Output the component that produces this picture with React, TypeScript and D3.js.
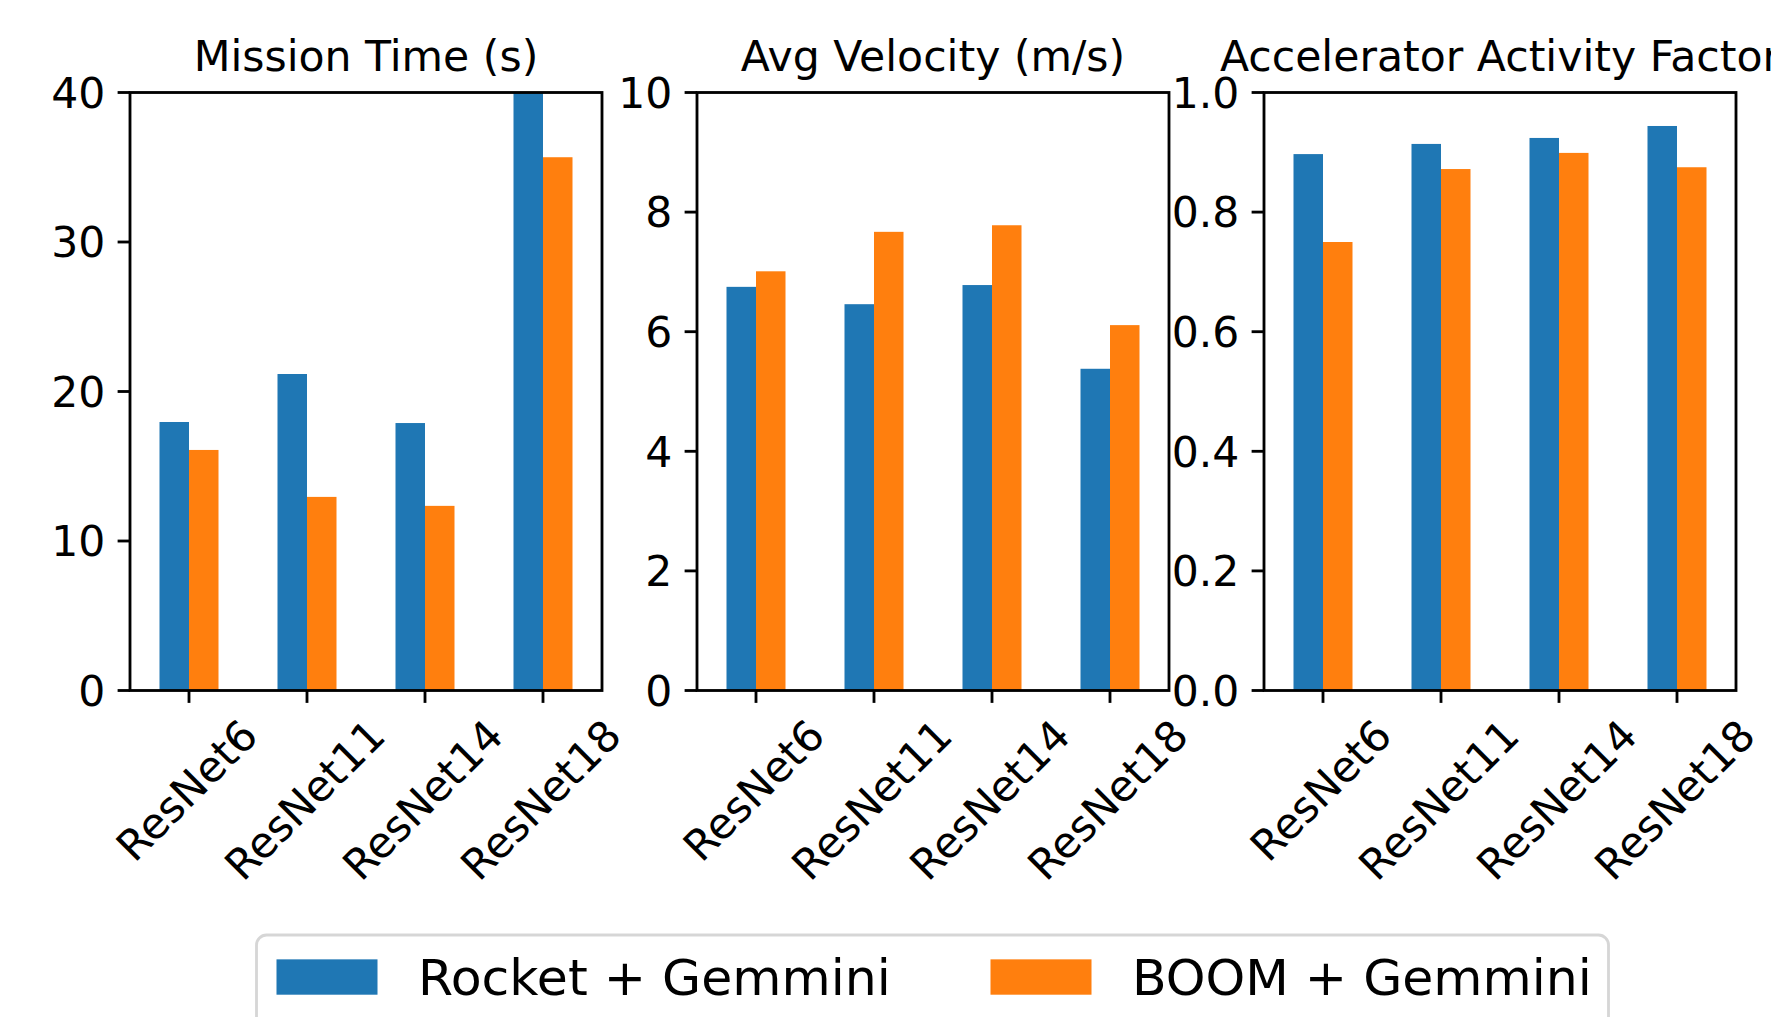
import React, { useEffect } from 'react';
import * as d3 from 'd3';

const categories = ['ResNet6', 'ResNet11', 'ResNet14', 'ResNet18'];
const seriesNames = ['Rocket + Gemmini', 'BOOM + Gemmini'];
const seriesColors = ['#1f77b4', '#ff7f0e'];

const missionRocket = [17.96, 21.17, 17.89, 40.0];
const missionBoom = [16.09, 12.95, 12.35, 35.67];
const velocityRocket = [6.75, 6.46, 6.78, 5.38];
const velocityBoom = [7.01, 7.67, 7.78, 6.11];
const activityRocket = [0.897, 0.914, 0.924, 0.944];
const activityBoom = [0.75, 0.872, 0.899, 0.875];

const missionTicks = [0, 10, 20, 30, 40];
const velocityTicks = [0, 2, 4, 6, 8, 10];
const activityTicks = [0, 0.2, 0.4, 0.6, 0.8, 1.0];

const titles = ['Mission Time (s)', 'Avg Velocity (m/s)', 'Accelerator Activity Factor'];

const W = 1771;
const H = 1017;
const FONT = '"DejaVu Sans", sans-serif';
const TICK_FS = 42.5;
const TITLE_FS = 42.6;
const LEGEND_FS = 50.5;
const PT = 3.54;
const LW = 0.8 * PT;
const TICK_LEN = 3.5 * PT;
const TICK_PAD = 3.5 * PT;

const panelLefts = [130, 697, 1264];
const panelWidth = 472;
const plotTop = 92.5;
const plotBottom = 690.5;

const panels = [
  { title: titles[0], rocket: missionRocket, boom: missionBoom, ticks: missionTicks, yMax: 40, fmt: d3.format('d') },
  { title: titles[1], rocket: velocityRocket, boom: velocityBoom, ticks: velocityTicks, yMax: 10, fmt: d3.format('d') },
  { title: titles[2], rocket: activityRocket, boom: activityBoom, ticks: activityTicks, yMax: 1.0, fmt: d3.format('.1f') },
];

let ctx: CanvasRenderingContext2D | null = null;
function textWidth(s: string, fs: number) {
  if (!ctx) {
    const c = document.createElement('canvas');
    ctx = c.getContext('2d');
  }
  if (!ctx) return s.length * fs * 0.6;
  ctx.font = `${fs}px "DejaVu Sans"`;
  return ctx.measureText(s).width;
}

function Panel({ p, idx }: { p: any; idx: number }) {
  const left = panelLefts[idx];
  const right = left + panelWidth;
  const x = d3.scaleLinear().domain([-0.5, categories.length - 0.5]).range([left, right]);
  const y = d3.scaleLinear().domain([0, p.yMax]).range([plotBottom, plotTop]);
  const barW = 0.25;
  const clipId = `clip${idx}`;
  const series = [p.rocket, p.boom];
  const h = 0.968 * TICK_FS;
  const d = 0.208 * TICK_FS;
  return (
    <g>
      <defs>
        <clipPath id={clipId}>
          <rect x={left} y={plotTop} width={panelWidth} height={plotBottom - plotTop} />
        </clipPath>
      </defs>
      <g clipPath={`url(#${clipId})`}>
        {series.map((vals: number[], si: number) =>
          vals.map((v, i) => {
            const x0 = x(i - barW + si * barW);
            const x1 = x(i + si * barW);
            return (
              <rect key={`${si}-${i}`} x={x0} y={y(v)} width={x1 - x0} height={y(0) - y(v)} fill={seriesColors[si]} />
            );
          })
        )}
      </g>
      {p.ticks.map((t: number) => (
        <g key={t}>
          <line x1={left - TICK_LEN} x2={left} y1={y(t)} y2={y(t)} stroke="#000" strokeWidth={LW} />
          <text x={left - TICK_LEN - TICK_PAD} y={y(t)} dy="0.36em" textAnchor="end" fontSize={TICK_FS} fontFamily={FONT}>
            {p.fmt(t)}
          </text>
        </g>
      ))}
      {categories.map((c, i) => {
        const w = textWidth(c, TICK_FS);
        const s = (w + h) / Math.SQRT2;
        const cx = x(i);
        const cy = plotBottom + TICK_LEN + TICK_PAD + s / 2;
        return (
          <g key={c}>
            <line x1={cx} x2={cx} y1={plotBottom} y2={plotBottom + TICK_LEN} stroke="#000" strokeWidth={LW} />
            <g transform={`translate(${cx},${cy}) rotate(-45)`}>
              <text x={0} y={h / 2 - d} textAnchor="middle" fontSize={TICK_FS} fontFamily={FONT}>
                {c}
              </text>
            </g>
          </g>
        );
      })}
      <rect x={left} y={plotTop} width={panelWidth} height={plotBottom - plotTop} fill="none" stroke="#000" strokeWidth={LW} />
      <text x={(left + right) / 2} y={plotTop - 6 * PT} textAnchor="middle" fontSize={TITLE_FS} fontFamily={FONT}>
        {p.title}
      </text>
    </g>
  );
}

function Legend() {
  const boxX = 256.5;
  const boxY = 935;
  const boxW = 1352;
  const handleW = 2.0 * LEGEND_FS;
  const handleH = 0.7 * LEGEND_FS;
  const handleXs = [276.5, 990.5];
  const baseline = 994.7;
  return (
    <g>
      <rect x={boxX} y={boxY} width={boxW} height={110} rx={10} ry={10} fill="#fff" fillOpacity={0.8} stroke="#cccccc" strokeOpacity={0.8} strokeWidth={LW} />
      {seriesNames.map((n, i) => (
        <g key={n}>
          <rect x={handleXs[i]} y={baseline - handleH} width={handleW} height={handleH} fill={seriesColors[i]} />
          <text x={handleXs[i] + handleW + 0.8 * LEGEND_FS} y={baseline} fontSize={LEGEND_FS} fontFamily={FONT}>
            {n}
          </text>
        </g>
      ))}
    </g>
  );
}

export default function App() {
  useEffect(() => {
    document.body.style.margin = '0';
  }, []);
  return (
    <svg width={W} height={H} viewBox={`0 0 ${W} ${H}`} style={{ display: 'block', position: 'absolute', left: 0, top: 0, background: '#fff', overflow: 'hidden' }}>
      <rect x={0} y={0} width={W} height={H} fill="#fff" />
      {panels.map((p, i) => (
        <Panel key={i} p={p} idx={i} />
      ))}
      <Legend />
    </svg>
  );
}
